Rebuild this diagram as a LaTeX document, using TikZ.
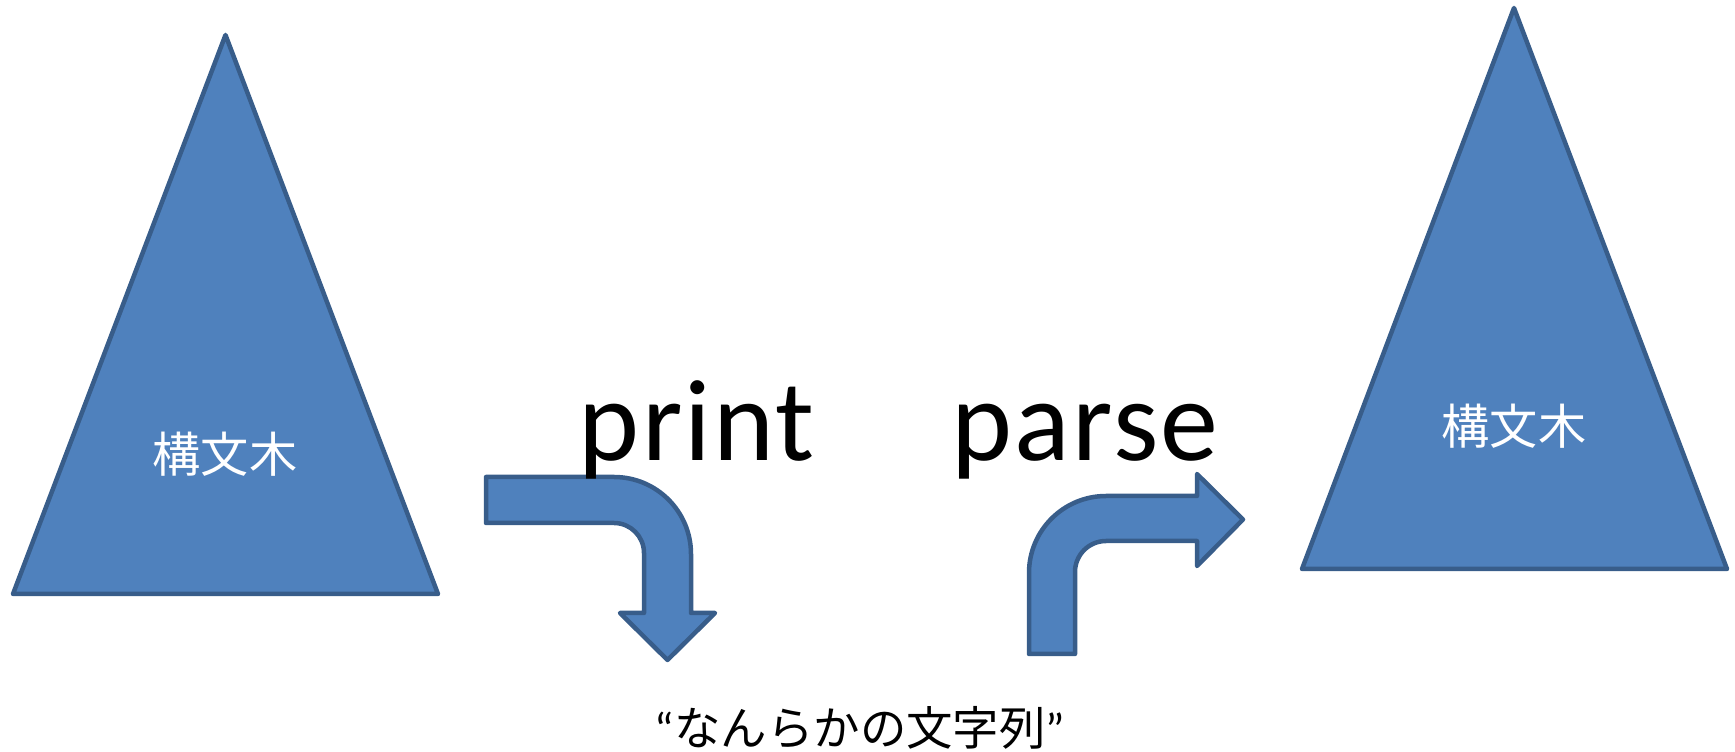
\documentclass[tikz,border=0pt]{standalone}
\usepackage{fontspec}
\setmainfont{Carlito}
\newfontfamily\jpfont{Noto Sans CJK JP}
\usepackage{tikz}
\definecolor{shapeblue}{HTML}{4F81BD}
\definecolor{shapeedge}{HTML}{385D8A}
\tikzset{
  blueshape/.style = {fill=shapeblue, draw=shapeedge, line width=0.045cm,
    line join=round},% triangles and bent arrows
  treelabel/.style = {white, inner sep=0pt,
    font=\jpfont\fontsize{13.7}{16}\selectfont},% text inside a tree
  steplabel/.style = {black, inner sep=0pt, anchor=base,
    font=\addfontfeature{LetterSpace=2}\fontsize{33}{38}\selectfont},% print / parse
  strlabel/.style = {black, inner sep=0pt,
    font=\jpfont\fontsize{13.2}{16}\selectfont},
}

\begin{document}
\begin{tikzpicture}[x=0.01cm,y=-0.01cm]
  \useasboundingbox (0,0) rectangle (1735,752);
%   syntax trees
  \coordinate (t1top) at (225.5,35);
  \coordinate (t1l) at (13,594);
  \coordinate (t1r) at (438,594);
  \coordinate (t2top) at (1514,8);
  \coordinate (t2l) at (1302,569);
  \coordinate (t2r) at (1727,569);
  \draw[blueshape] (t1top) -- (t1r) -- (t1l) -- cycle;
  \draw[blueshape] (t2top) -- (t2r) -- (t2l) -- cycle;
  \node[treelabel] (tree1) at (225,454) {構文木};
  \node[treelabel] (tree2) at (1514,426) {構文木};

%   print arrow: right, then down
  \draw[blueshape] (486,477) -- (614,477)
    arc[start angle=270, end angle=360, radius=77]
    -- (691,613) -- (715,613) -- (667.5,660) -- (620,613) -- (644,613)
    -- (644,553) arc[start angle=0, end angle=-90, radius=30]
    -- (486,523) -- cycle;
%   parse arrow: up, then right
  \draw[blueshape] (1029,654) -- (1029,573)
    arc[start angle=180, end angle=270, radius=77]
    -- (1197,496) -- (1197,474) -- (1243,519.5) -- (1197,566) -- (1197,541)
    -- (1106,541) arc[start angle=270, end angle=180, radius=31]
    -- (1075,654) -- cycle;

  \node[steplabel] (print) at (697,461) {print};
  \node[steplabel] (parse) at (1085,461) {parse};
  \node[strlabel] (str) at (860,728) {{\normalfont “}なんらかの文字列{\normalfont ”}};
\end{tikzpicture}
\end{document}
